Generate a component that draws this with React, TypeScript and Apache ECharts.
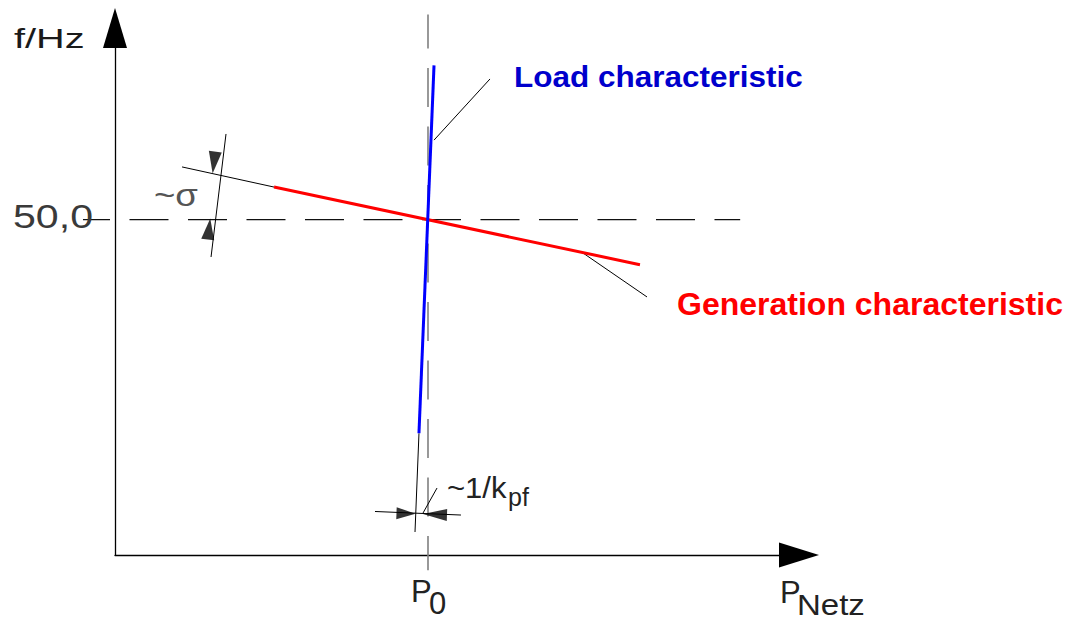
import React, { useEffect, useRef } from "react";
import * as echarts from "echarts";

// ---- data (P in arbitrary units, f in Hz) ----
const pRange = [0, 100];
const fRange = [46.5, 52];
const P0 = 45.76;
const F_NOMINAL = 50;

const generationLine = [[23.25, 50.34], [76.75, 49.53]];
const generationExtension = [[9.8, 50.55], [23.25, 50.34]];
const loadLine = [[46.64, 51.61], [44.44, 47.77]];
const loadExtension = [[44.44, 47.77], [43.86, 46.74]];
const nominalFreqLine = [[-4.68, F_NOMINAL], [91.4, F_NOMINAL]];
const p0Line = [[P0, 52.14], [P0, 46.34]];
const sigmaDimLine = [[16.23, 50.894], [14.04, 49.61]];
const kpfDimLine = [[38.01, 46.954], [50.58, 46.917]];
const loadLeader = [[46.64, 50.83], [54.82, 51.468]];
const generationLeader = [[68.42, 49.652], [77.78, 49.193]];
const kpfLeader = [[45.03, 46.938], [47.08, 47.199]];
const sigmaArrowTop = [14.47, 50.596];
const sigmaArrowBottom = [13.74, 49.902];
const kpfArrowLeft = [42.54, 46.933];
const kpfArrowRight = [46.78, 46.923];

const FONT = '"Liberation Sans", Arial, sans-serif';

function lineSeries(data: number[][], color: string, width: number, extra: any = {}) {
  return {
    type: "line",
    data,
    symbol: "none",
    silent: true,
    clip: false,
    lineStyle: { color, width, ...extra },
    z: extra.z ?? 2,
  };
}

function txt(text: string, x: number, y: number, size: number, fill: string, bold = false, scaleX = 1) {
  return {
    type: "text",
    x,
    y,
    scaleX,
    z: 10,
    style: {
      text,
      font: `${bold ? "bold " : ""}${size}px ${FONT}`,
      fill,
      align: "left",
      verticalAlign: "middle",
      textAlign: "left",
      textVerticalAlign: "middle",
    },
  };
}

export default function App() {
  const ref = useRef<HTMLDivElement>(null);
  useEffect(() => {
    if (!ref.current) return;
    const chart = echarts.init(ref.current, undefined, { renderer: "svg" });
    const axisCommon = {
      type: "value",
      axisTick: { show: false },
      axisLabel: { show: false },
      splitLine: { show: false },
    };
    chart.setOption({
      animation: false,
      backgroundColor: "#ffffff",
      grid: { left: 115, right: 268, top: 28, bottom: 66 },
      xAxis: {
        ...axisCommon,
        min: pRange[0],
        max: pRange[1],
        axisLine: {
          show: true,
          onZero: false,
          symbol: ["none", "triangle"],
          symbolSize: [25, 40],
          lineStyle: { color: "#000", width: 1.3 },
        },
      },
      yAxis: {
        ...axisCommon,
        min: fRange[0],
        max: fRange[1],
        axisLine: {
          show: true,
          onZero: false,
          symbol: ["none", "triangle"],
          symbolSize: [24, 40],
          lineStyle: { color: "#000", width: 1.3 },
        },
      },
      series: [
        lineSeries(generationExtension, "#000", 1),
        lineSeries(p0Line, "#808080", 1.6, { type: [39, 19.5], dashOffset: 5 }),
        lineSeries(loadExtension, "#000", 1),
        lineSeries(sigmaDimLine, "#000", 1),
        lineSeries(kpfDimLine, "#000", 1),
        lineSeries(loadLeader, "#000", 1),
        lineSeries(generationLeader, "#000", 1),
        lineSeries(kpfLeader, "#000", 1),
        lineSeries(generationLine, "#ff0000", 3, { z: 4 }),
        lineSeries(loadLine, "#0000ff", 3, { z: 5 }),
        {
          type: "scatter",
          silent: true,
          clip: false,
          symbol: "triangle",
          itemStyle: { color: "#000" },
          data: [
            { value: sigmaArrowTop, symbolSize: [13, 22], symbolRotate: 173 },
            { value: sigmaArrowBottom, symbolSize: [13, 21], symbolRotate: 353 },
            { value: kpfArrowLeft, symbolSize: [12, 19], symbolRotate: 268 },
            { value: kpfArrowRight, symbolSize: [12, 24], symbolRotate: 88 },
          ],
          z: 6,
        },
      ],
    });
    // nominal frequency line reaches left of the y axis, which a line series clamps;
    // map it through the chart's own scales instead
    const a = chart.convertToPixel({ gridIndex: 0 }, nominalFreqLine[0]) as number[];
    const b = chart.convertToPixel({ gridIndex: 0 }, nominalFreqLine[1]) as number[];
    chart.setOption({
      graphic: [
        {
          type: "line",
          z: 1,
          silent: true,
          shape: { x1: a[0], y1: a[1], x2: b[0], y2: b[1] },
          style: { stroke: "#111", lineWidth: 1.2, lineDash: [39, 19.5], lineDashOffset: 12 },
        },
        txt("f/Hz", 14, 38.3, 28, "#1a1a1a", false, 1.42),
        txt("50,0", 13, 216.5, 34, "#3a3a3a", false, 1.21),
        txt("~σ", 154, 195, 31, "#555", false, 1.18),
        txt("~1/k", 447, 488, 29, "#222", false, 1.07),
        txt("pf", 508, 497, 25, "#222", false, 1.0),
        txt("P", 411, 591.6, 31, "#222", false, 1.0),
        txt("0", 429, 603, 31, "#222", false, 1.0),
        txt("P", 780, 592, 31, "#222", false, 1.0),
        txt("Netz", 797, 605, 30, "#222", false, 1.1),
        txt("Load characteristic", 514, 76.3, 30, "#0000cc", true, 1.05),
        txt("Generation characteristic", 677, 303.9, 32, "#ff0000", true, 1.0),
      ],
    });
    return () => chart.dispose();
  }, []);
  return (
    <div
      ref={ref}
      style={{ position: "fixed", left: 0, top: 0, width: "1067px", height: "621px", background: "#fff" }}
    />
  );
}
